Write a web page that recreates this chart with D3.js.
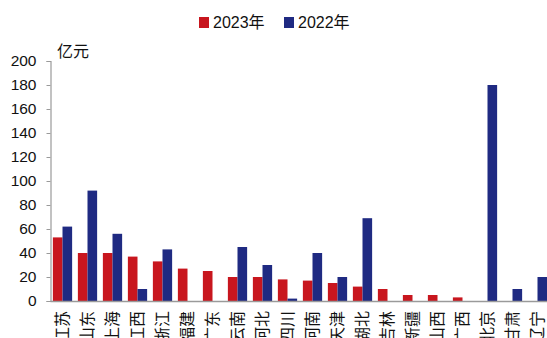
<!DOCTYPE html>
<html>
<head>
<meta charset="utf-8">
<script src="https://cdn.jsdelivr.net/npm/d3@7"></script>
<style>
  html, body { margin: 0; padding: 0; background: #fff; }
  svg { display: block; font-family: "Liberation Sans", "Noto Sans CJK SC", sans-serif; }
</style>
</head>
<body>
<svg id="chart" width="547" height="338"></svg>
<script>
// Provinces, in display order
const provinces = ["江苏", "山东", "上海", "江西", "浙江", "福建", "广东", "云南", "河北", "四川",
                   "河南", "天津", "湖北", "吉林", "新疆", "山西", "广西", "北京", "甘肃", "辽宁"];
// Amounts, 亿元
const values2023 = [53, 40, 40, 37, 33, 27, 25, 20, 20, 18, 17, 15, 12, 10, 5, 5, 3, 0, 0, 0];
const values2022 = [62, 92, 56, 10, 43, 0, 0, 45, 30, 2, 40, 20, 69, 0, 0, 0, 0, 180, 10, 20];
const seriesNames = ["2023年", "2022年"];
const yTicks = [0, 20, 40, 60, 80, 100, 120, 140, 160, 180, 200];

const colors = { "2023年": "#C8161E", "2022年": "#1F2A82" };
const rows = provinces.map((p, i) => ({ name: p, "2023年": values2023[i], "2022年": values2022[i] }));

const svg = d3.select("#chart");
const x0 = 50.5, yBase = 301, yTop = 61;

const x = d3.scaleBand().domain(provinces).range([50, 550]).paddingInner(0.23).paddingOuter(0.115);
const xs = d3.scaleBand().domain(seriesNames).range([0, x.bandwidth()]);
const y = d3.scaleLinear().domain([0, 200]).range([yBase, yTop]);

// Bars
svg.append("g")
  .selectAll("g")
  .data(rows)
  .join("g")
  .attr("transform", d => `translate(${x(d.name)},0)`)
  .selectAll("rect")
  .data(d => seriesNames.map(s => ({ s, v: d[s] })))
  .join("rect")
  .attr("x", d => xs(d.s))
  .attr("width", xs.bandwidth())
  .attr("y", d => y(d.v))
  .attr("height", d => yBase - y(d.v))
  .attr("fill", d => colors[d.s]);

// Y axis
const yAxis = d3.axisLeft(y).tickValues(yTicks).tickSize(4).tickPadding(10);
const gy = svg.append("g").attr("transform", `translate(${x0},0)`).call(yAxis);
gy.select(".domain").attr("stroke", "#9a9a9a").attr("stroke-width", 1.2);
gy.selectAll(".tick line").attr("stroke", "#9a9a9a");
gy.selectAll(".tick text").attr("fill", "#111").style("font-size", "15.5px")
  .style("font-family", "'Liberation Sans', sans-serif");

// X axis baseline
svg.append("line")
  .attr("x1", x0).attr("x2", 547)
  .attr("y1", yBase + 0.5).attr("y2", yBase + 0.5)
  .attr("stroke", "#9a9a9a").attr("stroke-width", 1.5);

// Category labels, rotated
svg.append("g")
  .selectAll("text")
  .data(provinces)
  .join("text")
  .attr("transform", d => `translate(${x(d) + x.bandwidth() / 2},311) rotate(-90)`)
  .attr("text-anchor", "end")
  .attr("dy", "0.36em")
  .attr("fill", "#111")
  .style("font-size", "16px")
  .style("font-family", "'Noto Sans CJK SC', sans-serif")
  .text(d => d);

// Unit label
svg.append("text")
  .attr("x", 57).attr("y", 57)
  .attr("fill", "#111")
  .style("font-size", "16px")
  .style("font-family", "'Noto Sans CJK SC', sans-serif")
  .text("亿元");

// Legend
const legend = svg.append("g");
const legendX = [199, 284];
seriesNames.forEach((s, i) => {
  const g = legend.append("g").attr("transform", `translate(${legendX[i]},0)`);
  g.append("rect").attr("x", 0).attr("y", 17).attr("width", 10).attr("height", 11).attr("fill", colors[s]);
  g.append("text").attr("x", 14).attr("y", 28)
    .attr("fill", "#111")
    .style("font-size", "16px")
    .text(s);
});
</script>
</body>
</html>
